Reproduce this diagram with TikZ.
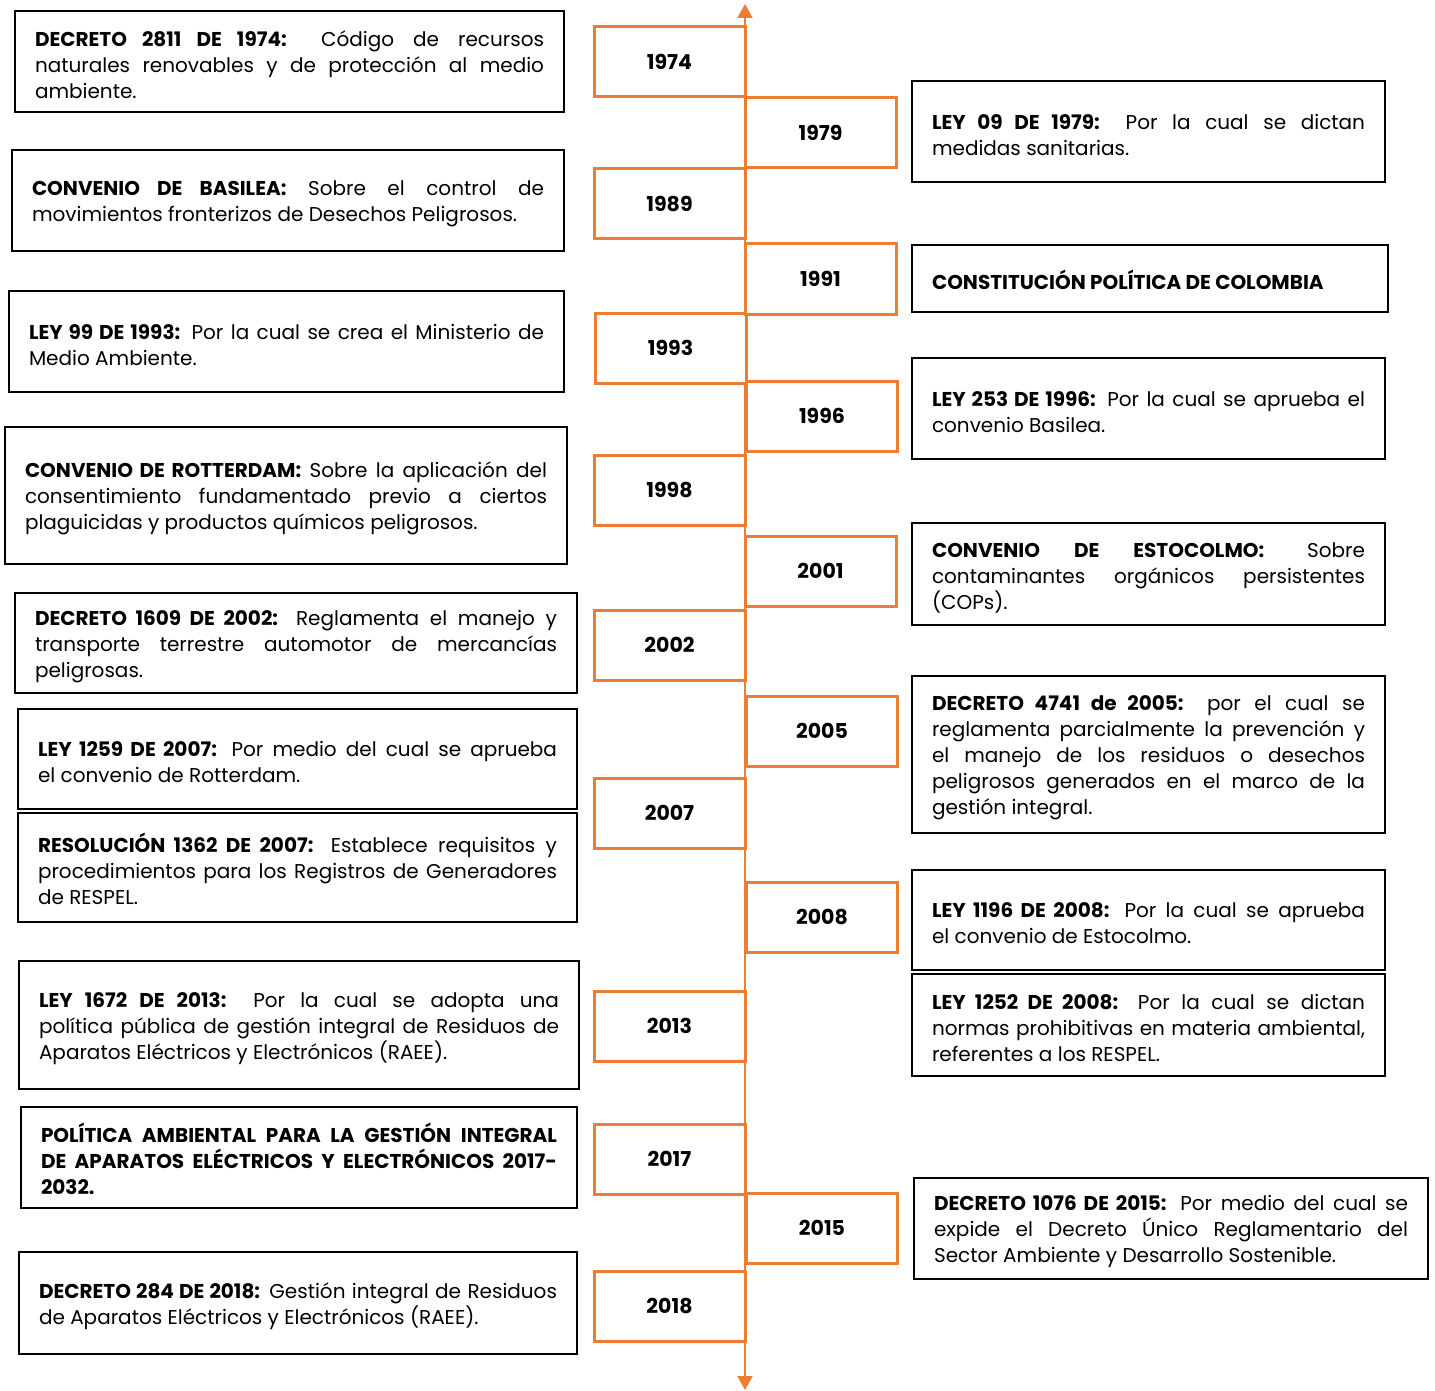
\documentclass[tikz,border=0pt]{standalone}
\usepackage{fontspec}
\setmainfont{Poppins}
\usetikzlibrary{arrows.meta}
\definecolor{naranja}{RGB}{237,125,49}
\tolerance=10000
\hbadness=10000
\hyphenpenalty=10000
\begin{document}
\begin{tikzpicture}[
    x=1pt, y=-1pt,
    ley box/.style={draw=black, line width=2.5pt, align=justify, inner xsep=20pt,
      inner ysep=0pt, font=\fontsize{20}{26}\selectfont,
      execute at begin node={\rule{0pt}{22pt}}},
    year box/.style={draw=naranja, line width=3pt, fill=white, minimum width=151pt,
      minimum height=70pt, font=\bfseries\fontsize{20.5}{22}\selectfont},
    eje/.style={draw=naranja, line width=2pt, {Triangle[length=14pt,width=15pt]}-{Triangle[length=14pt,width=15pt]}},
    ]
\useasboundingbox (0,0) rectangle (1435,1391);
% linea de tiempo
\coordinate (arriba) at (745,4);
\coordinate (abajo) at (745,1390);
\draw[eje] (abajo) -- (arriba);
% anios, lado izquierdo
\node[year box] (a1974) at (669.5,62) {1974};
\node[year box] (a1989) at (669.5,204) {1989};
\node[year box] (a1993) at (670.5,348) {1993};
\node[year box] (a1998) at (669.5,490) {1998};
\node[year box] (a2002) at (669.5,645) {2002};
\node[year box] (a2007) at (669.5,813) {2007};
\node[year box] (a2013) at (669.5,1026) {2013};
\node[year box] (a2017) at (669.5,1159) {2017};
\node[year box] (a2018) at (669.5,1306) {2018};
% anios, lado derecho
\node[year box] (a1979) at (820.5,132.5) {1979};
\node[year box] (a1991) at (820.5,279) {1991};
\node[year box] (a1996) at (822,416) {1996};
\node[year box] (a2001) at (820.5,571) {2001};
\node[year box] (a2005) at (822,731) {2005};
\node[year box] (a2008) at (822,917) {2008};
\node[year box] (a2015) at (822,1228) {2015};
% normas, lado izquierdo
\node[ley box, text width=509pt, minimum height=101pt] (dec2811) at (289.5,61.5)
  {\textbf{DECRETO 2811 DE 1974:} Código de recursos\linebreak naturales renovables y de protección al medio\linebreak ambiente.};
\node[ley box, text width=512pt, minimum height=101pt] (basilea) at (288,200.5)
  {\textbf{CONVENIO DE BASILEA:} Sobre el control de\linebreak movimientos fronterizos de Desechos Peligrosos.};
\node[ley box, text width=515pt, minimum height=101pt] (ley99) at (286.5,341.5)
  {\textbf{LEY 99 DE 1993:} Por la cual se crea el Ministerio de\linebreak Medio Ambiente.};
\node[ley box, text width=522pt, minimum height=137pt] (rotterdam) at (286,495.5)
  {\textbf{CONVENIO DE ROTTERDAM:} Sobre la aplicación del\linebreak consentimiento fundamentado previo a ciertos\linebreak plaguicidas y productos químicos peligrosos.};
\node[ley box, text width=522pt, minimum height=100pt] (dec1609) at (296,643)
  {\textbf{DECRETO 1609 DE 2002:} Reglamenta el manejo y\linebreak transporte terrestre automotor de mercancías\linebreak peligrosas.};
\node[ley box, text width=519pt, minimum height=100pt] (ley1259) at (297.5,759)
  {\textbf{LEY 1259 DE 2007:} Por medio del cual se aprueba\linebreak el convenio de Rotterdam.};
\node[ley box, text width=519pt, minimum height=109pt] (res1362) at (297.5,867.5)
  {\textbf{RESOLUCIÓN 1362 DE 2007:} Establece requisitos y\linebreak procedimientos para los Registros de Generadores\linebreak de RESPEL.};
\node[ley box, text width=520pt, minimum height=128pt] (ley1672) at (299,1025)
  {\textbf{LEY 1672 DE 2013:} Por la cual se adopta una\linebreak política pública de gestión integral de Residuos de\linebreak Aparatos Eléctricos y Electrónicos (RAEE).};
\node[ley box, text width=516pt, minimum height=101pt] (politica) at (299,1157.5)
  {\textbf{POLÍTICA AMBIENTAL PARA LA GESTIÓN INTEGRAL\linebreak DE APARATOS ELÉCTRICOS Y ELECTRÓNICOS 2017-\linebreak 2032.}};
\node[ley box, text width=518pt, minimum height=102pt] (dec284) at (298,1303)
  {\textbf{DECRETO 284 DE 2018:} Gestión integral de Residuos\linebreak de Aparatos Eléctricos y Electrónicos (RAEE).};
% normas, lado derecho
\node[ley box, text width=433pt, minimum height=101pt] (ley09) at (1148.5,131.5)
  {\textbf{LEY 09 DE 1979:} Por la cual se dictan\linebreak medidas sanitarias.};
\node[ley box, text width=436pt, minimum height=67pt] (constitucion) at (1150,278.5)
  {\textbf{CONSTITUCIÓN POLÍTICA DE COLOMBIA}};
\node[ley box, text width=433pt, minimum height=101pt] (ley253) at (1148.5,408.5)
  {\textbf{LEY 253 DE 1996:} Por la cual se aprueba el\linebreak convenio Basilea.};
\node[ley box, text width=433pt, minimum height=102pt] (estocolmo) at (1148.5,574)
  {\textbf{CONVENIO DE ESTOCOLMO:} Sobre\linebreak contaminantes orgánicos persistentes\linebreak (COPs).};
\node[ley box, text width=433pt, minimum height=157pt] (dec4741) at (1148.5,754.5)
  {\textbf{DECRETO 4741 de 2005:} por el cual se\linebreak reglamenta parcialmente la prevención y\linebreak el manejo de los residuos o desechos\linebreak peligrosos generados en el marco de la\linebreak gestión integral.};
\node[ley box, text width=433pt, minimum height=100pt] (ley1196) at (1148.5,920)
  {\textbf{LEY 1196 DE 2008:} Por la cual se aprueba\linebreak el convenio de Estocolmo.};
\node[ley box, text width=433pt, minimum height=102pt] (ley1252) at (1148.5,1025)
  {\textbf{LEY 1252 DE 2008:} Por la cual se dictan\linebreak normas prohibitivas en materia ambiental,\linebreak referentes a los RESPEL.};
\node[ley box, text width=474pt, minimum height=101pt] (dec1076) at (1171,1228.5)
  {\textbf{DECRETO 1076 DE 2015:} Por medio del cual se\linebreak expide el Decreto Único Reglamentario del\linebreak Sector Ambiente y Desarrollo Sostenible.};
\end{tikzpicture}
\end{document}
